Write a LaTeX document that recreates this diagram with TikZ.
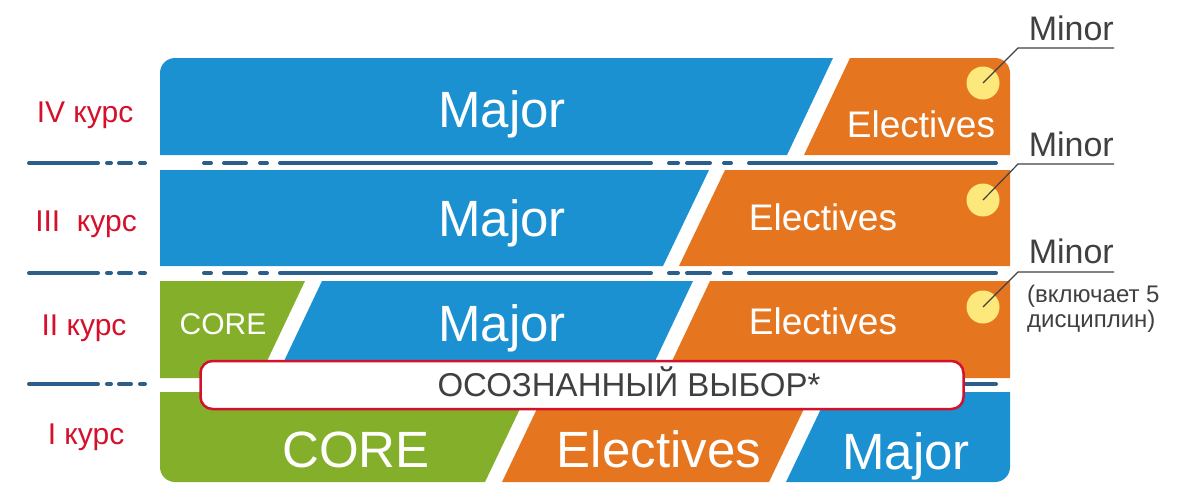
\documentclass[tikz,border=0pt]{standalone}
\usepackage{fontspec}
\setmainfont{Liberation Sans}
\usepackage{tikz}
\usepackage{xcolor}
\usetikzlibrary{positioning,calc}
\definecolor{majorblue}{RGB}{28,145,210}
\definecolor{electorange}{RGB}{229,118,31}
\definecolor{coregreen}{RGB}{132,175,42}
\definecolor{minoryellow}{RGB}{253,233,123}
\definecolor{kursred}{RGB}{212,16,44}
\definecolor{dashblue}{RGB}{44,94,138}
\definecolor{textgray}{RGB}{64,64,64}
\newcommand{\fsz}[1]{\fontsize{#1}{#1}\selectfont}

\begin{document}
\begin{tikzpicture}[
    x=1pt,y=-1pt,
    big/.style={text=white,font=\fsz{51},anchor=base,inner sep=0pt},
    mid/.style={text=white,font=\fsz{37},anchor=base,inner sep=0pt},
    small/.style={text=white,font=\fsz{30},anchor=base,inner sep=0pt},
    kurs/.style={text=kursred,font=\fsz{30},anchor=base,inner sep=0pt},
    minor/.style={text=textgray,font=\fsz{34},anchor=base east,inner sep=0pt},
    note/.style={text=textgray,font=\fsz{24},anchor=base west,inner sep=0pt},
    dot/.style={circle,fill=minoryellow,minimum size=33pt,inner sep=0pt},
    leader/.style={draw=textgray,line width=1.2pt},
    yearline/.style={draw=dashblue,line width=4pt,line cap=round,
        dash pattern=on 69pt off 9pt on 4pt off 8pt on 12pt off 9pt on 5pt off 100pt},
    gapline/.style={draw=dashblue,line width=4pt,line cap=round,
        dash pattern=on 7pt off 13pt on 22pt off 14pt on 7pt off 13pt on 371pt off 18pt
        on 9pt off 9pt on 23pt off 14pt on 7pt off 18pt on 247pt off 100pt},
    badge/.style={draw=kursred,line width=2.5pt,fill=white,rounded corners=12pt,
        minimum width=763pt,minimum height=48pt,inner sep=0pt}
]
\useasboundingbox (0,0) rectangle (1188,483);

% IV kurs
\fill[majorblue] (160,155) [rounded corners=15] -- (160,58) [sharp corners] -- (833,58) -- (787,155) -- cycle;
\fill[electorange] (850,58) [rounded corners=15] -- (1010,58) [sharp corners] -- (1010,155) -- (804,155) -- cycle;
\node[big] (maj4) at (502,127) {Major};
\node[mid] (ele4) at (921,137) {Electives};
\node[kurs] (kurs4) at (85,122) {IV курс};

% III kurs
\fill[majorblue] (160,170) -- (709,170) -- (663,266) -- (160,266) -- cycle;
\fill[electorange] (725,170) -- (1010,170) -- (1010,266) -- (679,266) -- cycle;
\node[big] (maj3) at (502,236) {Major};
\node[mid] (ele3) at (823,230) {Electives};
\node[kurs] (kurs3) at (86,231) {III\ \ курс};

% II kurs
\fill[coregreen] (160,281) -- (305,281) -- (259,378) -- (160,378) -- cycle;
\fill[majorblue] (322,281) -- (693,281) -- (647,378) -- (276,378) -- cycle;
\fill[electorange] (710,281) -- (1010,281) -- (1010,378) -- (664,378) -- cycle;
\node[small] (core2) at (223,334) {CORE};
\node[big] (maj2) at (502,341) {Major};
\node[mid] (ele2) at (823,334) {Electives};
\node[kurs] (kurs2) at (84,335) {II курс};

% I kurs
\fill[coregreen] (160,392) -- (528,392) -- (485,482) [rounded corners=15] -- (160,482) [sharp corners] -- cycle;
\fill[electorange] (545,392) -- (812,392) -- (769,482) -- (502,482) -- cycle;
\fill[majorblue] (829,392) -- (1010,392) [rounded corners=15] -- (1010,482) [sharp corners] -- (786,482) -- cycle;
\node[big] (core1) at (356,467) {CORE};
\node[big] (ele1) at (659,467) {Electives};
\node[big] (maj1) at (906,469) {Major};
\node[kurs] (kurs1) at (86,444) {I курс};

% year borders
\foreach \y in {163,273,384} {
    \draw[yearline] (29,\y) -- (145,\y);
    \draw[gapline] (204,\y) -- (996,\y);
}

% conscious choice
\node[badge] (choice) at (582,385) {};
\node[text=textgray,font=\fsz{33},anchor=base] (choicetxt) at (629,396) {ОСОЗНАННЫЙ ВЫБОР*};

% minors
\node[dot] (dot4) at (983,83) {};
\node[dot] (dot3) at (983,200) {};
\node[dot] (dot2) at (983,307) {};
\coordinate (m4) at (1114,48);
\coordinate (m3) at (1114,164);
\coordinate (m2) at (1114,272);
\draw[leader] (dot4.center) -- ++(35,-35) -- (m4);
\draw[leader] (dot3.center) -- ++(35,-36) -- (m3);
\draw[leader] (dot2.center) -- ++(35,-35) -- (m2);
\node[minor] (minor4) at ($(m4)+(0,-8)$) {Minor};
\node[minor] (minor3) at ($(m3)+(0,-8)$) {Minor};
\node[minor] (minor2) at ($(m2)+(0,-9)$) {Minor};
\node[note] (incl1) at (1027,302) {(включает 5};
\node[note] (incl2) at (1027,327) {дисциплин)};

\end{tikzpicture}
\end{document}
